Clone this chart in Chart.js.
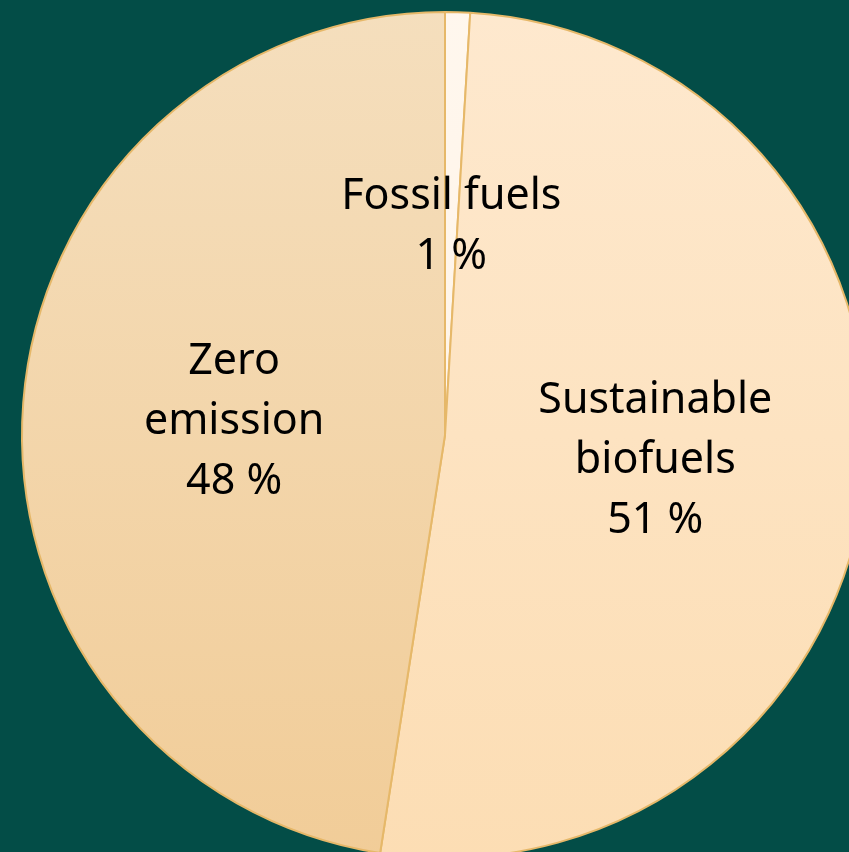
<!DOCTYPE html>
<html>
<head>
<meta charset="utf-8">
<script src="https://cdn.jsdelivr.net/npm/chart.js@4/dist/chart.umd.min.js"></script>
<style>
    html, body { margin: 0; padding: 0; background: #034d47; overflow: hidden; width: 849px; height: 852px; }
    #wrap { position: absolute; left: 0; top: -10px; width: 890px; height: 890px; }
</style>
</head>
<body>
<div id="wrap"><canvas id="pie"></canvas></div>
<script>
// Datos del gráfico
const categorias = ['Fossil fuels', 'Sustainable biofuels', 'Zero emission'];
const lineasEtiqueta = [['Fossil fuels'], ['Sustainable', 'biofuels'], ['Zero', 'emission']];
const valores = [0.95, 51.5, 47.55];
const porcentajes = ['1 %', '51 %', '48 %'];

// Colores de cada porción (arriba, abajo) para el degradado
const coloresArriba = ['#fff7ee', '#fee9cf', '#f5dfbe'];
const coloresAbajo = ['#fff2e2', '#fcddb3', '#f1cc97'];

function degradado(context) {
    const chart = context.chart;
    const area = chart.chartArea;
    if (!area) return coloresArriba[context.dataIndex];
    const g = chart.ctx.createLinearGradient(0, area.top, 0, area.bottom);
    g.addColorStop(0, coloresArriba[context.dataIndex]);
    g.addColorStop(1, coloresAbajo[context.dataIndex]);
    return g;
}

// Etiquetas dentro de cada porción
const etiquetasPlugin = {
    id: 'etiquetas',
    afterDatasetsDraw(chart) {
        const ctx = chart.ctx;
        const meta = chart.getDatasetMeta(0);
        ctx.save();
        ctx.fillStyle = '#000';
        ctx.font = '43px "Noto Sans"';
        ctx.textAlign = 'center';
        ctx.textBaseline = 'middle';
        meta.data.forEach((arc, i) => {
            const p = arc.getCenterPoint();
            const lineas = lineasEtiqueta[i].concat([porcentajes[i]]);
            const alto = 60;
            const y0 = p.y + 3 - (lineas.length - 1) * alto / 2;
            lineas.forEach((t, j) => ctx.fillText(t, p.x, y0 + j * alto));
        });
        ctx.restore();
    }
};

new Chart(document.getElementById('pie'), {
    type: 'pie',
    data: {
        labels: categorias,
        datasets: [{
            data: valores,
            backgroundColor: degradado,
            borderColor: '#e6b869',
            borderWidth: 2
        }]
    },
    options: {
        responsive: true,
        maintainAspectRatio: false,
        animation: false,
        radius: 423,
        layout: { padding: 0 },
        plugins: {
            legend: { display: false },
            tooltip: { enabled: false }
        }
    },
    plugins: [etiquetasPlugin]
});
</script>
</body>
</html>
